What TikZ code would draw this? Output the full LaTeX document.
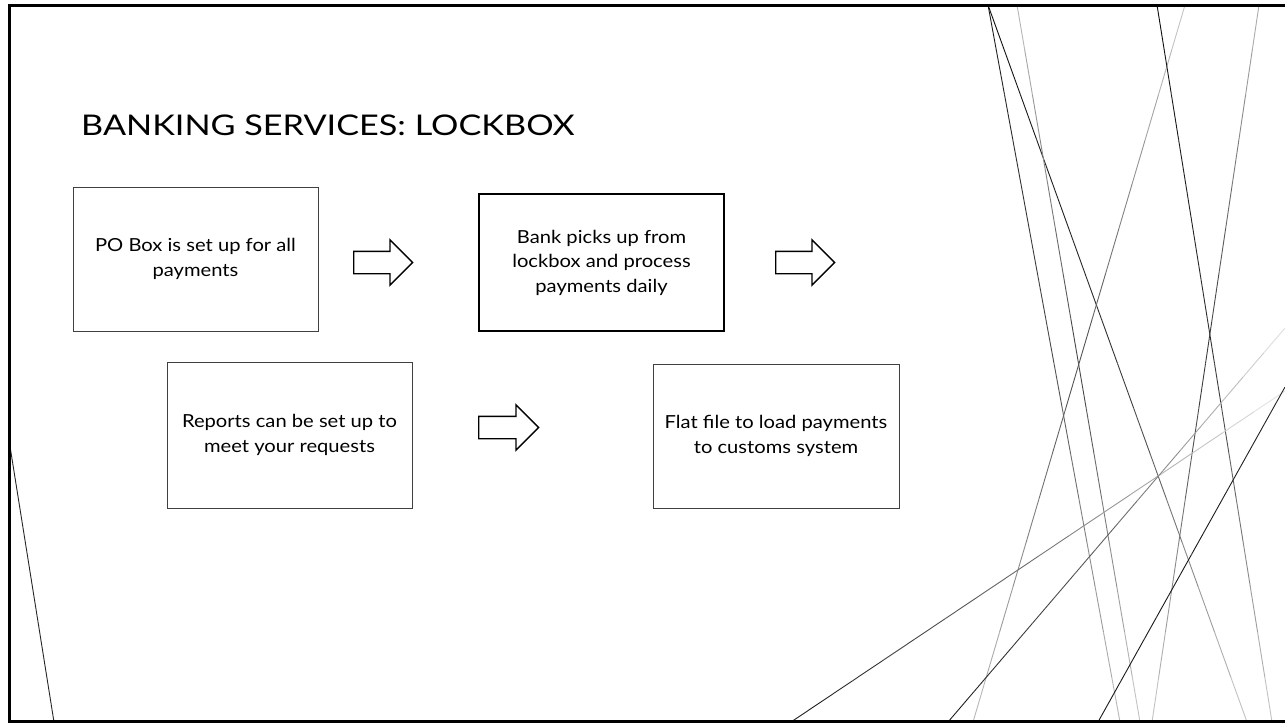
\documentclass[tikz,border=0pt]{standalone}
\usepackage{fontspec}
\setmainfont{Lato}
\newfontfamily\titlefont[FakeStretch=1.2]{Lato}
\newfontfamily\boxfont[FakeStretch=1.12]{Lato}
\usetikzlibrary{calc,shapes.arrows}

% A straight stroke whose grey level runs linearly from #3 (start) to #4 (middle) to #5 (end)
\newcommand\graderule[5]{%
  \foreach \i in {0,...,15}{%
    \pgfmathsetmacro\ta{\i/16}%
    \pgfmathsetmacro\tb{(\i+1)/16}%
    \pgfmathsetmacro\tm{(\i+0.5)/16}%
    \pgfmathsetmacro\pc{\tm<0.5 ? #3+(#4-#3)*2*\tm : #4+(#5-#4)*(2*\tm-1)}%
    \draw[deco, draw=black!\pc] ($#1!\ta!#2$) -- ($#1!\tb!#2$);
  }%
}

\tikzset{
  stepbox/.style={draw=black!75, line width=1pt, inner sep=0pt, align=center,
    font=\boxfont\fontsize{18pt}{24.5pt}\selectfont},
  blockarrow/.style={single arrow, draw=black, line width=1.4pt, fill=white,
    inner sep=0pt, text height=21pt, text depth=0pt, text width=0pt,
    minimum height=59pt, minimum width=44pt,
    single arrow head extend=11.5pt, anchor=west},
  deco/.style={line width=0.9pt},
  frameline/.style={line width=3pt, draw=black},
}

\begin{document}
\begin{tikzpicture}[x=1pt, y=-1pt]
  \useasboundingbox (0,0) rectangle (1285,723);
  \fill[white] (0,0) rectangle (1285,723);

  % crossing hairlines on the right
  \graderule{(988,5)}{(1120,722)}{90}{70}{25}
  \graderule{(988,5)}{(1247,722)}{95}{80}{20}
  \graderule{(1017,5)}{(1140,722)}{25}{75}{20}
  \graderule{(1185,5)}{(973,722)}{20}{70}{25}
  \graderule{(1157,5)}{(1272,722)}{95}{80}{20}
  \graderule{(1259,5)}{(1152,722)}{30}{80}{20}
  \graderule{(791,722)}{(1285,391)}{90}{55}{8}
  \graderule{(948,722)}{(1285,328)}{90}{60}{10}
  \graderule{(1098,722)}{(1285,387)}{90}{90}{85}
  % hairline in the lower left corner
  \draw[deco, draw=black!85] (9,440) -- (54,722);

  % slide frame (open on the right)
  \draw[frameline] (1285,5.8) -- (9.5,5.8) -- (9.5,721.8) -- (1285,721.8);

  % title
  \node[anchor=base west, inner sep=0pt, font=\titlefont\fontsize{28.5pt}{34pt}\selectfont]
    (title) at (81,135) {BANKING SERVICES: LOCKBOX};

  % process boxes
  \node[stepbox, minimum width=245pt, minimum height=144pt] (b1) at (195.5,259)
    {PO Box is set up for all\\payments};
  \node[stepbox, draw=black, line width=1.8pt, minimum width=245pt, minimum height=137pt]
    (b2) at (601.5,262.5) {Bank picks up from\\lockbox and process\\payments daily};
  \node[stepbox, minimum width=245pt, minimum height=146pt] (b3) at (289.5,435)
    {Reports can be set up to\\meet your requests};
  \node[stepbox, minimum width=246pt, minimum height=144pt] (b4) at (776,436)
    {Flat file to load payments\\to customs system};

  % block arrows
  \node[blockarrow] (a1) at (353,262.5) {};
  \node[blockarrow] (a2) at (775,262.5) {};
  \node[blockarrow, minimum height=60pt] (a3) at (478,427.5) {};
\end{tikzpicture}
\end{document}
